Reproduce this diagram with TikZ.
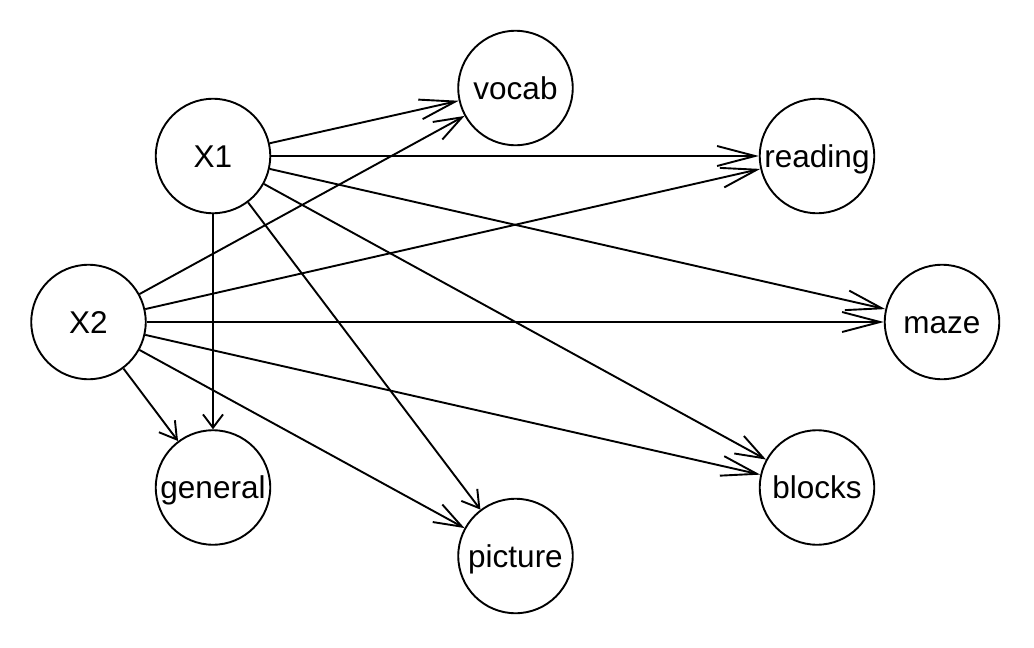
\documentclass[tikz,border=0pt]{standalone}
\usepackage{fontspec}
\setmainfont{Liberation Sans}
\usetikzlibrary{arrows.meta}
\tikzset{
  vtx/.style={circle, draw, fill=white, line width=1.9pt, minimum size=114.5pt, inner sep=0pt,
    font=\fontsize{31.5}{37}\selectfont, text height=22.4pt, text depth=0pt},
  edg/.style={line width=1.9pt},
  ar/.style={-{Straight Barb[length=#1, width=20pt]}}
}
\begin{document}
\begin{tikzpicture}[x=1pt,y=-1pt]
\useasboundingbox (0,0) rectangle (1034,648);
\node[vtx] (X1) at (213,156) {X1};
\node[vtx] (X2) at (88.5,322) {X2};
\node[vtx] (vocab) at (515.5,88) {vocab};
\node[vtx] (reading) at (817,156) {reading};
\node[vtx] (maze) at (942,322) {maze};
\node[vtx] (blocks) at (817,487.5) {blocks};
\node[vtx] (picture) at (515.5,556) {picture};
\node[vtx] (general) at (213,487.5) {general};
\draw[edg, ar=35.7pt] (X1) -- (vocab);
\draw[edg, ar=38pt] (X1) -- (reading);
\draw[edg, ar=35.7pt] (X1) -- (maze);
\draw[edg, ar=27.9pt] (X1) -- (blocks);
\draw[edg, ar=16.6pt] (X1) -- (picture);
\draw[edg, ar=13.3pt] (X1) -- (general);
\draw[edg, ar=27.9pt] (X2) -- (vocab);
\draw[edg, ar=35.7pt] (X2) -- (reading);
\draw[edg, ar=38pt] (X2) -- (maze);
\draw[edg, ar=35.7pt] (X2) -- (blocks);
\draw[edg, ar=27.9pt] (X2) -- (picture);
\draw[edg, ar=16.6pt] (X2) -- (general);
\end{tikzpicture}
\end{document}
